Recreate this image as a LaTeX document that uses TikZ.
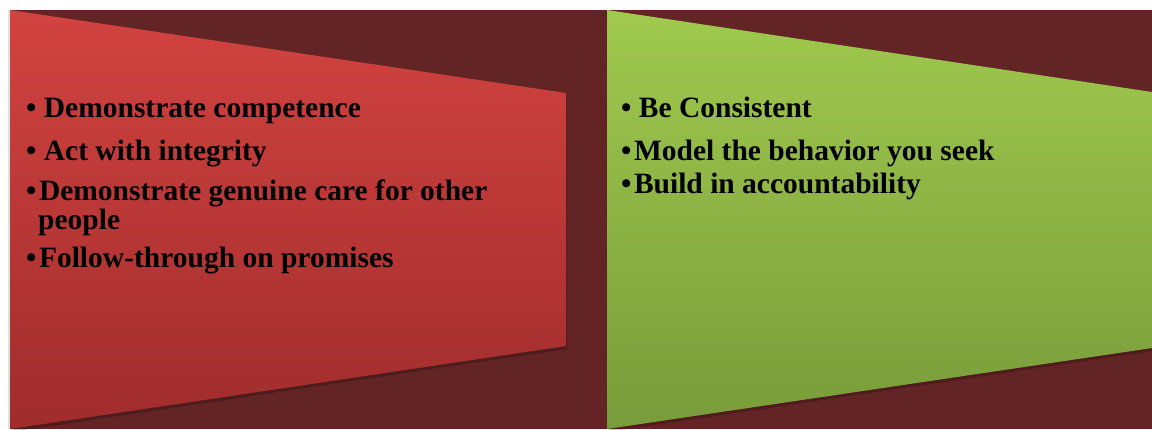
\documentclass[tikz,border=0pt]{standalone}
\usepackage{fontspec}
\setmainfont{Liberation Serif}
\definecolor{bgdark}{HTML}{622424}
\definecolor{redtop}{HTML}{D24340}
\definecolor{redbot}{HTML}{A02C2C}
\definecolor{greentop}{HTML}{A0C94E}
\definecolor{greenbot}{HTML}{789C3A}
\newcommand{\tightbul}{\textbullet\hspace{2.5pt}}
\tikzset{
  item/.style={anchor=base west, inner sep=0pt, font=\fontsize{29.5}{34}\selectfont\bfseries, text=black},
  redpanel/.style={top color=redtop, bottom color=redbot, draw=none},
  greenpanel/.style={top color=greentop, bottom color=greenbot, draw=none},
  panelshadow/.style={fill=black, opacity=0.2, draw=none}
}
\begin{document}
\begin{tikzpicture}[x=1pt,y=-1pt]
\useasboundingbox (0,0) rectangle (1152,429);
\fill[white] (0,0) rectangle (1152,429);
\fill[black!12] (8,10) rectangle (10,429);
\fill[bgdark] (10,10) rectangle (1152,429);
% shadows
\path[panelshadow] (11,12) -- (567,95) -- (567,349) -- (11,432) -- cycle;
\path[panelshadow] (608,12) -- (1152,95) -- (1152,351) -- (608,432) -- cycle;
% panels
\path[redpanel] (10,10) -- (566,93) -- (566,346) -- (10,429) -- cycle;
\path[greenpanel] (607,10) -- (1152,92) -- (1152,348) -- (607,429) -- cycle;
% left texts
\node[item] (l1) at (26,117) {\textbullet\ Demonstrate competence};
\node[item] (l2) at (26,160) {\textbullet\ Act with integrity};
\node[item] (l3) at (26,200) {\tightbul Demonstrate genuine care for other};
\node[item] (l3b) at (38,229) {people};
\node[item] (l4) at (26,267) {\tightbul Follow-through on promises};
% right texts
\node[item] (r1) at (621,117) {\textbullet\ Be Consistent};
\node[item] (r2) at (621,160) {\tightbul Model the behavior you seek};
\node[item] (r3) at (621,193) {\tightbul Build in accountability};
\end{tikzpicture}
\end{document}
